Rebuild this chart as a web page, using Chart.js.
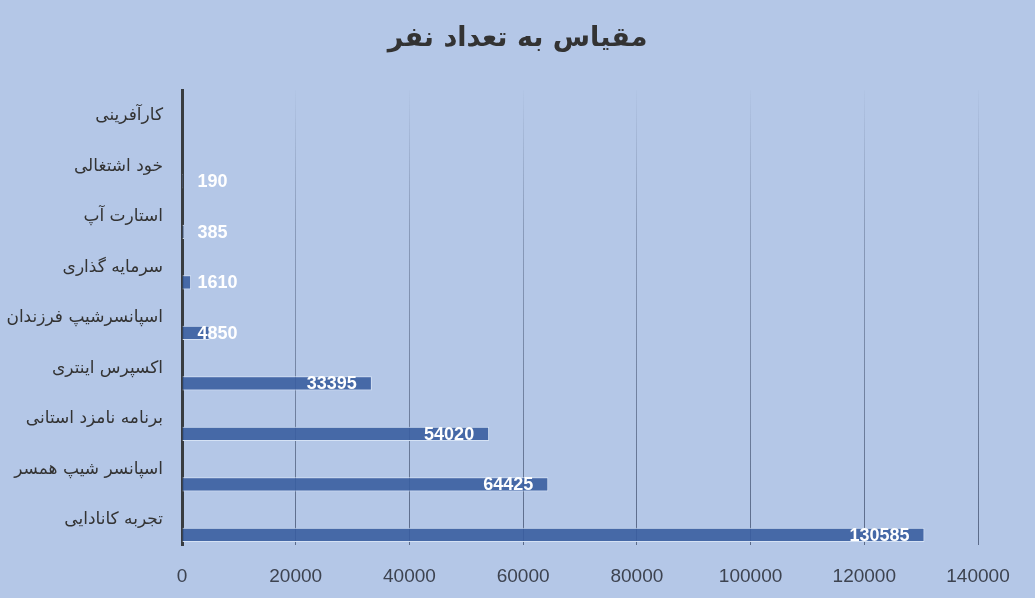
<!DOCTYPE html>
<html>
<head>
<meta charset="utf-8">
<script src="https://cdn.jsdelivr.net/npm/chart.js@4"></script>
<style>
    html, body { margin: 0; padding: 0; background: #B4C7E7; }
    #wrap { width: 1035px; height: 598px; }
</style>
</head>
<body>
<div id="wrap"><canvas id="barChart"></canvas></div>
<script>
const categories = [
    'کارآفرینی',
    'خود اشتغالی',
    'استارت آپ',
    'سرمایه گذاری',
    'اسپانسرشیپ فرزندان',
    'اکسپرس اینتری',
    'برنامه نامزد استانی',
    'اسپانسر شیپ همسر',
    'تجربه کانادایی'
]
const counts = [null, 190, 385, 1610, 4850, 33395, 54020, 64425, 130585]
const emptySeries = [null, null, null, null, null, null, null, null, null]
const xMax = 140000
const xStep = 20000
const chartTitle = 'مقیاس به تعداد نفر'

// white value labels at the end of each bar
const valueLabels = {
    id: 'valueLabels',
    afterDatasetsDraw(chart) {
        const ctx = chart.ctx
        const meta = chart.getDatasetMeta(2)
        ctx.save()
        ctx.font = 'bold 18px "Liberation Sans"'
        ctx.fillStyle = '#ffffff'
        ctx.textBaseline = 'middle'
        ctx.textAlign = 'left'
        meta.data.forEach(function(bar, i) {
            if (counts[i] === null) return
            const text = String(counts[i])
            const w = ctx.measureText(text).width
            let left = bar.x - 15 - w
            if (left < bar.base + 15) left = bar.base + 15
            ctx.fillText(text, left, bar.y + 1)
        })
        ctx.restore()
    }
}

const gridColor = function(context) {
    const area = context.chart.chartArea
    if (!area) return 'rgba(80,95,125,0.6)'
    const g = context.chart.ctx.createLinearGradient(0, area.top, 0, area.bottom)
    g.addColorStop(0, 'rgba(75,90,120,0.02)')
    g.addColorStop(0.3, 'rgba(75,90,120,0.4)')
    g.addColorStop(1, 'rgba(75,90,120,0.85)')
    return g
}

const data = {
    labels: categories,
    datasets: [
        { data: emptySeries, backgroundColor: 'transparent' },
        { data: emptySeries, backgroundColor: 'transparent' },
        {
            label: 'تعداد نفر',
            data: counts,
            backgroundColor: 'rgba(58,94,160,0.9)',
            borderColor: 'rgba(215,228,246,0.95)',
            borderWidth: 1
        }
    ]
}

const config = {
    type: 'bar',
    data: data,
    plugins: [valueLabels],
    options: {
        indexAxis: 'y',
        responsive: true,
        maintainAspectRatio: false,
        animation: false,
        datasets: {
            bar: { categoryPercentage: 0.9, barPercentage: 0.95 }
        },
        layout: { padding: { left: 0, right: 0, bottom: 11, top: 0 } },
        plugins: {
            legend: { display: false },
            tooltip: { enabled: false },
            title: {
                display: true,
                text: chartTitle,
                color: '#333333',
                font: { family: '"DejaVu Sans"', size: 27, weight: 'bold' },
                padding: { top: 23, bottom: 35 }
            }
        },
        scales: {
            x: {
                min: 0,
                max: xMax,
                ticks: {
                    stepSize: xStep,
                    color: '#3d4350',
                    padding: 20,
                    maxRotation: 0,
                    font: { family: '"Liberation Sans"', size: 19 },
                    callback: function(value) { return String(value) }
                },
                grid: { color: gridColor, lineWidth: 1, drawTicks: false },
                border: { display: false },
                afterFit: function(scale) { scale.height = 42 }
            },
            y: {
                ticks: {
                    color: '#333333',
                    padding: 19,
                    font: { family: '"DejaVu Sans"', size: 17 }
                },
                grid: { display: false, drawTicks: false },
                border: { display: true, color: '#383c40', width: 3 },
                afterFit: function(scale) { scale.width = 182 }
            },
            yRight: {
                type: 'category',
                position: 'right',
                ticks: { display: false },
                grid: { display: false, drawTicks: false },
                border: { display: false },
                afterFit: function(scale) { scale.width = 57 }
            }
        }
    }
}

new Chart(
    document.getElementById('barChart'),
    config
)
</script>
</body>
</html>
